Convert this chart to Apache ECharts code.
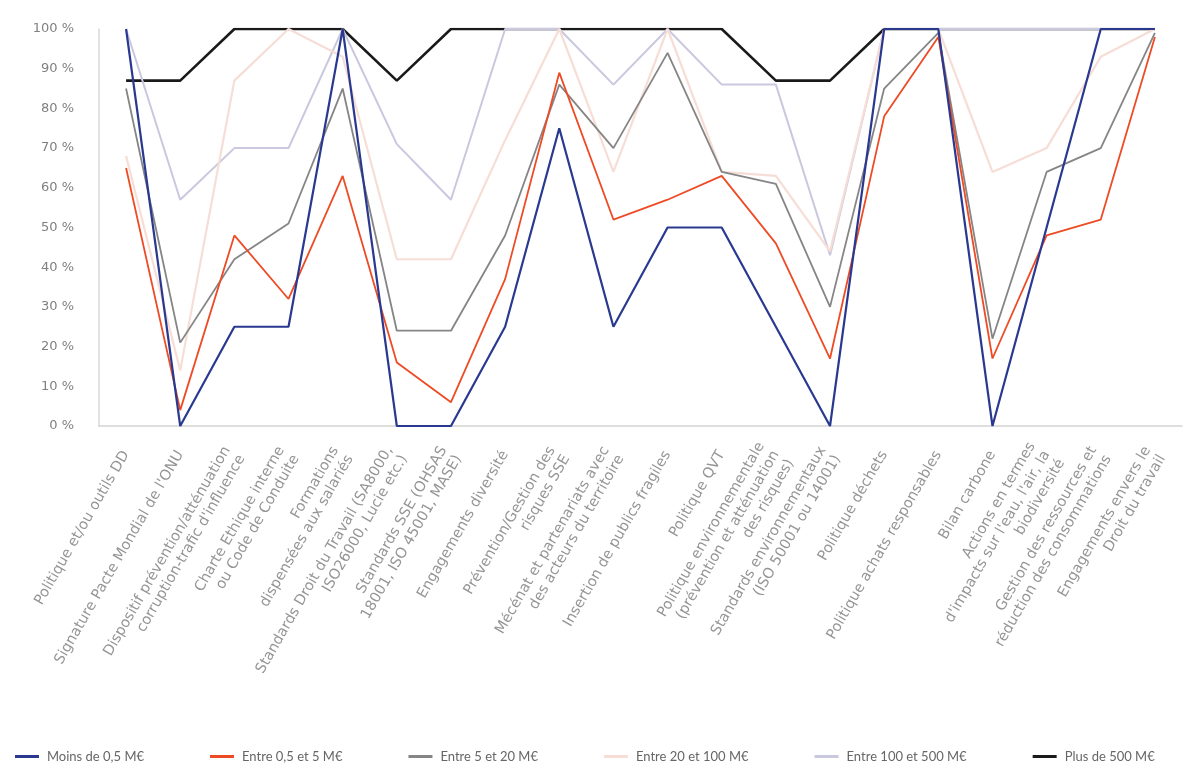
<!DOCTYPE html>
<html>
<head>
<meta charset="utf-8">
<script src="https://cdn.jsdelivr.net/npm/echarts@6/dist/echarts.min.js"></script>
<style>
html,body{margin:0;padding:0;background:#fff;}
#c{width:1184px;height:765px;}
</style>
</head>
<body>
<div id="c"></div>
<script>
const categories = [
  "Politique et/ou outils DD",
  "Signature Pacte Mondial de l'ONU",
  "Dispositif prévention/atténuation\ncorruption-trafic d'influence",
  "Charte Ethique interne\nou Code de Conduite",
  "Formations\ndispensées aux salariés",
  "Standards Droit du Travail (SA8000,\nISO26000, Lucie etc.)",
  "Standards SSE (OHSAS\n18001, ISO 45001, MASE)",
  "Engagements diversité",
  "Prévention/Gestion des\nrisques SSE",
  "Mécénat et partenariats avec\ndes acteurs du territoire",
  "Insertion de publics fragiles",
  "Politique QVT",
  "Politique environnementale\n(prévention et atténuation\ndes risques)",
  "Standards environnementaux\n(ISO 50001 ou 14001)",
  "Politique déchets",
  "Politique achats responsables",
  "Bilan carbone",
  "Actions en termes\nd'impacts sur l'eau, l'air, la\nbiodiversité",
  "Gestion des ressources et\nréduction des consommations",
  "Engagements envers le\nDroit du travail"
];
const seriesNames = ["Moins de 0,5 M€", "Entre 0,5 et 5 M€", "Entre 5 et 20 M€", "Entre 20 et 100 M€", "Entre 100 et 500 M€", "Plus de 500 M€"];
const moins05   = [100,0,25,25,100,0,0,25,75,25,50,50,25,0,100,100,0,50,100,100];
const entre05_5 = [65,4,48,32,63,16,6,37,89,52,57,63,46,17,78,98,17,48,52,98];
const entre5_20 = [85,21,42,51,85,24,24,48,86,70,94,64,61,30,85,99,22,64,70,99];
const entre20_100 = [68,14,87,100,93,42,42,72,100,64,100,64,63,44,100,100,64,70,93,100];
const entre100_500 = [100,57,70,70,100,71,57,100,100,86,100,86,86,43,100,100,100,100,100,100];
const plus500   = [87,87,100,100,100,87,100,100,100,100,100,100,87,87,100,100,100,100,100,100];
const yTicks = { min: 0, max: 100, interval: 10 };

const allData = [moins05, entre05_5, entre5_20, entre20_100, entre100_500, plus500];
const colors = ["#2a3990", "#ee4b25", "#858585", "#f6ded7", "#c9c8df", "#1a1a1a"];
const widths = [2.2, 1.8, 1.8, 2.2, 2, 2.6];
const zs = [8, 7, 6, 5, 4, 3];

const chart = echarts.init(document.getElementById('c'), null, {renderer: 'canvas'});
chart.setOption({
  animation: false,
  backgroundColor: '#ffffff',
  textStyle: { fontFamily: '"DejaVu Sans", sans-serif' },
  grid: { left: 99, right: 2, top: 29, bottom: 339, containLabel: false },
  legend: {
    left: 10, top: 745, width: 1600,
    itemGap: 66, itemWidth: 24, itemHeight: 3,
    icon: 'rect',
    textStyle: { color: '#666', fontSize: 13, fontFamily: 'Lato, sans-serif', padding: [0, 0, 0, 3] },
    data: seriesNames
  },
  xAxis: {
    type: 'category',
    data: categories,
    boundaryGap: true,
    axisLine: { show: true, lineStyle: { color: '#d3d3d3', width: 1.5 } },
    axisTick: { show: false },
    axisLabel: {
      interval: 0, rotate: 60, color: '#959595', fontSize: 14.5,
      fontFamily: '"DejaVu Sans", sans-serif', margin: 26, align: 'right', lineHeight: 17,
      padding: [22, 0, 0, 0]
    }
  },
  yAxis: {
    type: 'value',
    min: yTicks.min, max: yTicks.max, interval: yTicks.interval,
    axisLine: { show: true, lineStyle: { color: '#d8d8d8', width: 1.5 } },
    axisTick: { show: false },
    splitLine: { show: false },
    axisLabel: { formatter: '{value} %', color: '#808080', fontSize: 13, margin: 25, fontFamily: '"DejaVu Sans", sans-serif' }
  },
  series: allData.map((d, i) => ({
    name: seriesNames[i],
    type: 'line',
    data: d,
    z: zs[i],
    symbol: 'none',
    color: colors[i],
    lineStyle: { color: colors[i], width: widths[i] },
    itemStyle: { color: colors[i] }
  }))
});
</script>
</body>
</html>
